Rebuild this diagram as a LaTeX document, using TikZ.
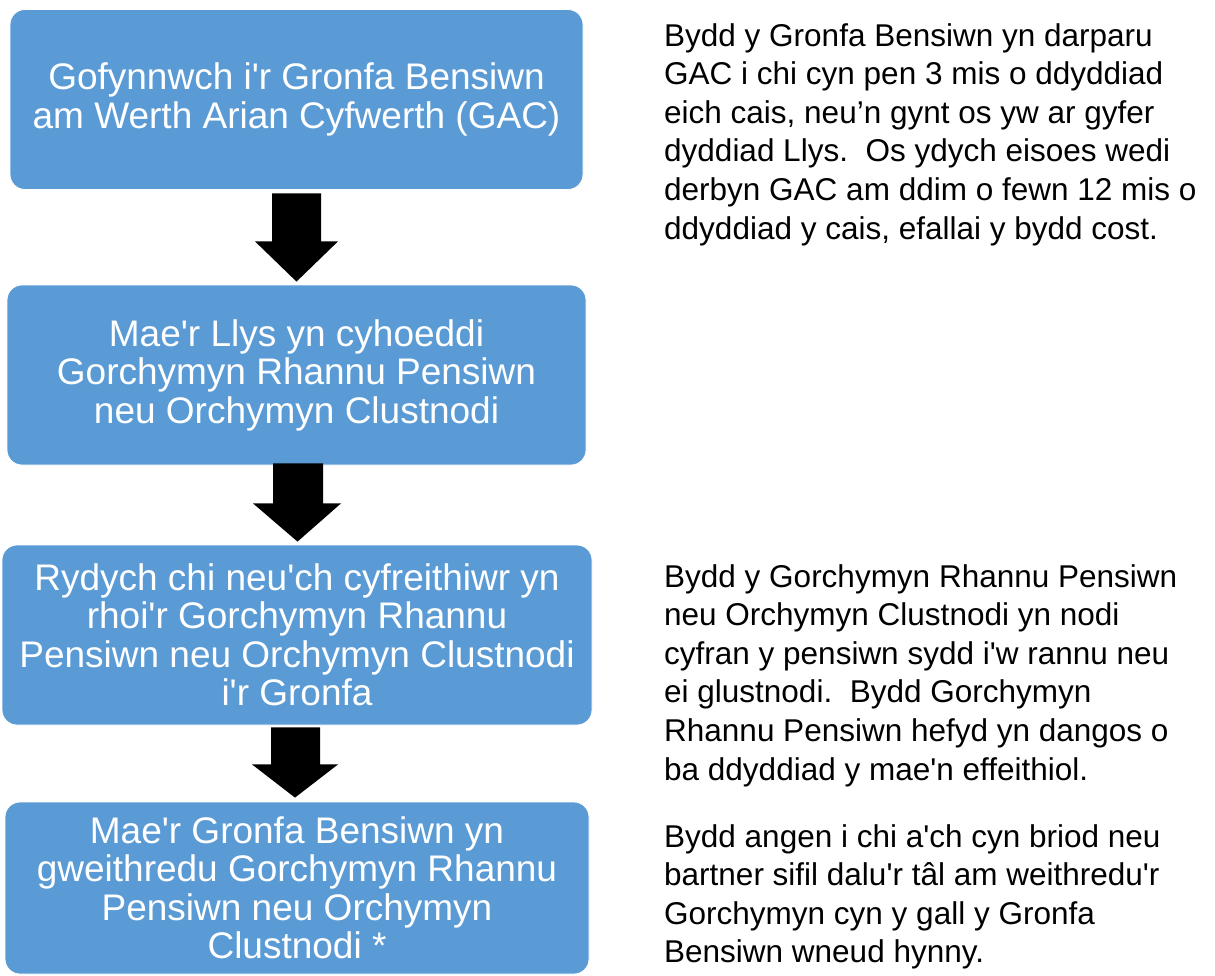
\documentclass[tikz,border=0pt]{standalone}
\usetikzlibrary{calc}
\definecolor{boxblue}{HTML}{5B9BD5}
\font\boxfont="Liberation Sans" at 37pt
\font\notefont="Liberation Sans" at 31.5pt
\newcommand\myboxtext{\boxfont\baselineskip=38.5pt\relax}
\newcommand\mynotetext{\notefont\baselineskip=38.6pt\relax}
\begin{document}
\begin{tikzpicture}[x=1pt,y=-1pt,
  stepbox/.style={rectangle, rounded corners=15pt, fill=boxblue, draw=white, line width=0.8pt,
    text=white, align=center, inner sep=0pt, font=\myboxtext},
  note/.style={anchor=base west, align=left, inner sep=0pt, text=black,
    font=\mynotetext},
  bigarrow/.style={fill=black}]
\useasboundingbox (0,0) rectangle (1215,975);
\clip (0,0) rectangle (1215,975);

\node[stepbox, minimum width=573pt, minimum height=180pt] (b1) at (296.5,99.5)
  {\raisebox{-1.8pt}{\vbox{\halign{\hfil#\hfil\cr Gofynnwch i'r Gronfa Bensiwn\cr am Werth Arian Cyfwerth (GAC)\cr}}}};
\node[stepbox, minimum width=579pt, minimum height=180pt] (b2) at (296.5,375)
  {Mae'r Llys yn cyhoeddi\\Gorchymyn Rhannu Pensiwn\\neu Orchymyn Clustnodi};
\node[stepbox, minimum width=590pt, minimum height=180pt] (b3) at (297,635)
  {Rydych chi neu'ch cyfreithiwr yn\\rhoi'r Gorchymyn Rhannu\\Pensiwn neu Orchymyn Clustnodi\\i'r Gronfa};
\node[stepbox, minimum width=584pt, minimum height=172pt] (b4) at (297,888)
  {Mae'r Gronfa Bensiwn yn\\gweithredu Gorchymyn Rhannu\\Pensiwn neu Orchymyn\\Clustnodi *};

\fill[bigarrow] ($(b1.south)+(-24.5,3.5)$) -- ($(b1.south)+(24.5,3.5)$) -- ($(b1.south)+(24.5,51.5)$)
  -- ($(b1.south)+(41.5,51.5)$) -- ($(b2.north)+(0,-3)$) -- ($(b1.south)+(-41.5,51.5)$)
  -- ($(b1.south)+(-24.5,51.5)$) -- cycle;
\fill[bigarrow] ($(b2.south)+(-23.5,-2)$) -- ($(b2.south)+(26.5,-2)$) -- ($(b2.south)+(26.5,38)$)
  -- ($(b2.south)+(44.5,38)$) -- ($(b3.north)+(0.5,-3)$) -- ($(b2.south)+(-43.5,38)$)
  -- ($(b2.south)+(-23.5,38)$) -- cycle;
\fill[bigarrow] ($(b3.south)+(-26,2)$) -- ($(b3.south)+(23,2)$) -- ($(b3.south)+(23,39)$)
  -- ($(b3.south)+(41,39)$) -- ($(b4.north)+(-2,-4)$) -- ($(b3.south)+(-45,39)$)
  -- ($(b3.south)+(-26,39)$) -- cycle;

\node[note] (n1) at (664,239) {Bydd y Gronfa Bensiwn yn darparu\\GAC i chi cyn pen 3 mis o ddyddiad\\eich cais, neu’n gynt os yw ar gyfer\\dyddiad Llys.\ \ Os ydych eisoes wedi\\derbyn GAC am ddim o fewn 12 mis o\\ddyddiad y cais, efallai y bydd cost.};
\node[note] (n2) at (664,780) {Bydd y Gorchymyn Rhannu Pensiwn\\neu Orchymyn Clustnodi yn nodi\\cyfran y pensiwn sydd i'w rannu neu\\ei glustnodi.\ \ Bydd Gorchymyn\\Rhannu Pensiwn hefyd yn dangos o\\ba ddyddiad y mae'n effeithiol.};
\node[note] (n3) at (664,962.8) {Bydd angen i chi a'ch cyn briod neu\\bartner sifil dalu'r tâl am weithredu'r\\Gorchymyn cyn y gall y Gronfa\\Bensiwn wneud hynny.};
\end{tikzpicture}
\end{document}
